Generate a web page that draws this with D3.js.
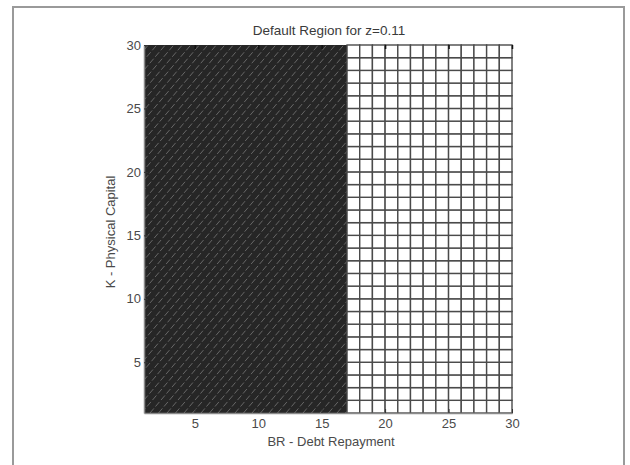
<!DOCTYPE html>
<html>
<head>
<meta charset="utf-8">
<script src="https://cdn.jsdelivr.net/npm/d3@7"></script>
<style>
  body { margin: 0; background: #fff; }
  svg { display: block; font-family: "Liberation Sans", Arial, sans-serif; }
</style>
</head>
<body>
<svg id="chart" width="630" height="465"></svg>
<script>
// grid nodes on both axes (cell edges)
const brValues = [1,2,3,4,5,6,7,8,9,10,11,12,13,14,15,16,17,18,19,20,21,22,23,24,25,26,27,28,29,30];
const kValues  = [1,2,3,4,5,6,7,8,9,10,11,12,13,14,15,16,17,18,19,20,21,22,23,24,25,26,27,28,29,30];
// for every K row: the BR value up to which the firm defaults
const defaultUpTo = [17,17,17,17,17,17,17,17,17,17,17,17,17,17,17,17,17,17,17,17,17,17,17,17,17,17,17,17,17];
const xTicks = [5,10,15,20,25,30];
const yTicks = [5,10,15,20,25,30];
const title = 'Default Region for z=0.11';

const svg = d3.select('#chart');

const x = d3.scaleLinear().domain([1, 30]).range([144, 512]);
const y = d3.scaleLinear().domain([1, 30]).range([413, 45]);

// outer figure frame
svg.append('rect')
    .attr('x', 13).attr('y', 7)
    .attr('width', 611).attr('height', 470)
    .attr('fill', 'none')
    .attr('stroke', '#9a9a9a')
    .attr('stroke-width', 2);

// build cells from the grid
const cells = [];
for (let i = 0; i < kValues.length - 1; i++) {
    for (let j = 0; j < brValues.length - 1; j++) {
        cells.push({
            b0: brValues[j], b1: brValues[j + 1],
            k0: kValues[i], k1: kValues[i + 1],
            isDefault: brValues[j + 1] <= defaultUpTo[i]
        });
    }
}

// outline of the default region (step polygon over the K rows)
const outline = [[x(brValues[0]), y(kValues[0])]];
defaultUpTo.forEach((b, i) => {
    outline.push([x(b), y(kValues[i])]);
    outline.push([x(b), y(kValues[i + 1])]);
});
outline.push([x(brValues[0]), y(kValues[kValues.length - 1])]);
const regionPath = d3.line()(outline) + 'Z';

svg.append('defs').append('clipPath').attr('id', 'dclip')
    .append('path').attr('d', regionPath);

const g = svg.append('g');

g.append('path')
    .attr('d', regionPath)
    .attr('fill', '#262626');

// diagonal hatching over the default region
const h = y.range()[0] - y.range()[1];
const hatchStarts = d3.range(x.range()[0] - h, x.range()[1], 8.5);
g.append('g').attr('clip-path', 'url(#dclip)')
    .selectAll('line').data(hatchStarts).enter().append('line')
    .attr('x1', d => d).attr('y1', y.range()[0])
    .attr('x2', d => d + h * 0.85).attr('y2', y.range()[1])
    .attr('stroke', '#6e6e6e')
    .attr('stroke-width', 0.9)
    .attr('stroke-dasharray', '6,2.5');

g.selectAll('.ncell').data(cells.filter(d => !d.isDefault)).enter().append('rect')
    .attr('class', 'ncell')
    .attr('x', d => x(d.b0))
    .attr('y', d => y(d.k1))
    .attr('width', d => x(d.b1) - x(d.b0))
    .attr('height', d => y(d.k0) - y(d.k1))
    .attr('fill', '#fff')
    .attr('stroke', '#4a4a4a')
    .attr('stroke-width', 1.4);

// axes
function styleAxis(sel) {
    sel.select('.domain').attr('stroke', '#8a8a8a').attr('stroke-width', 1.5);
    sel.selectAll('.tick line').attr('stroke', '#333');
    sel.selectAll('.tick text').attr('fill', '#4a4a4a').style('font-size', '13px');
}

svg.append('g')
    .attr('transform', 'translate(0,413)')
    .call(d3.axisBottom(x).tickValues(xTicks).tickSizeInner(-4).tickSizeOuter(0).tickPadding(6))
    .call(styleAxis);

svg.append('g')
    .attr('transform', 'translate(144,0)')
    .call(d3.axisLeft(y).tickValues(yTicks).tickSizeInner(-4).tickSizeOuter(0).tickPadding(3))
    .call(styleAxis);

svg.append('g')
    .attr('transform', 'translate(0,45)')
    .call(d3.axisTop(x).tickValues(xTicks).tickSizeInner(-4).tickSizeOuter(0).tickFormat(''))
    .call(sel => {
        sel.select('.domain').remove();
        sel.selectAll('.tick line').attr('stroke', '#111').attr('stroke-width', 1.5);
    });

// labels
svg.append('text')
    .attr('x', 329).attr('y', 35)
    .attr('text-anchor', 'middle')
    .attr('fill', '#3a3a3a')
    .style('font-size', '13.5px')
    .text(title);

svg.append('text')
    .attr('x', 331).attr('y', 446)
    .attr('text-anchor', 'middle')
    .attr('fill', '#4a4a4a')
    .style('font-size', '13px')
    .text('BR - Debt Repayment');

svg.append('text')
    .attr('transform', 'translate(115,232) rotate(-90)')
    .attr('text-anchor', 'middle')
    .attr('fill', '#4a4a4a')
    .style('font-size', '13px')
    .text('K - Physical Capital');
</script>
</body>
</html>
